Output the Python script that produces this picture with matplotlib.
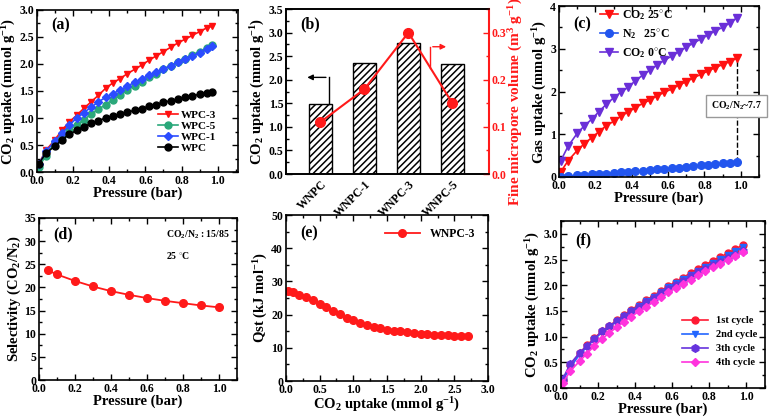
import numpy as np
import matplotlib
matplotlib.use('Agg')
import matplotlib.pyplot as plt
from matplotlib.ticker import AutoMinorLocator, MultipleLocator

plt.rcParams['font.family'] = ['Liberation Serif', 'DejaVu Serif']
plt.rcParams['font.weight'] = 'bold'
plt.rcParams['axes.labelweight'] = 'bold'
plt.rcParams['mathtext.fontset'] = 'custom'
plt.rcParams['mathtext.rm'] = 'Liberation Serif:bold'
plt.rcParams['mathtext.it'] = 'Liberation Serif:bold:italic'
plt.rcParams['mathtext.bf'] = 'Liberation Serif:bold'
plt.rcParams['mathtext.default'] = 'rm'
plt.rcParams['axes.linewidth'] = 1.2
plt.rcParams['hatch.linewidth'] = 1.1

# ---- (a) CO2 isotherms of the carbons ----
p_a = [0.01, 0.05, 0.10, 0.14, 0.18, 0.22, 0.26, 0.30, 0.34, 0.38, 0.42, 0.46, 0.50,
       0.54, 0.58, 0.62, 0.66, 0.70, 0.74, 0.78, 0.82, 0.86, 0.90, 0.94, 0.97]
wpc3 = [0.15, 0.40, 0.60, 0.78, 0.93, 1.05, 1.18, 1.30, 1.42, 1.55, 1.65, 1.73, 1.82,
        1.90, 1.98, 2.07, 2.15, 2.23, 2.31, 2.39, 2.46, 2.53, 2.60, 2.67, 2.70]
wpc5 = [0.10, 0.30, 0.55, 0.67, 0.78, 0.87, 0.97, 1.07, 1.16, 1.25, 1.34, 1.43, 1.51,
        1.60, 1.67, 1.75, 1.82, 1.90, 1.97, 2.04, 2.10, 2.17, 2.23, 2.29, 2.35]
wpc1 = [0.15, 0.38, 0.58, 0.72, 0.87, 1.00, 1.10, 1.20, 1.30, 1.38, 1.45, 1.52, 1.59,
        1.66, 1.73, 1.79, 1.85, 1.91, 1.97, 2.03, 2.09, 2.15, 2.21, 2.27, 2.33]
wpc = [0.15, 0.35, 0.48, 0.60, 0.70, 0.77, 0.84, 0.90, 0.95, 1.00, 1.04, 1.07, 1.11,
       1.14, 1.17, 1.22, 1.25, 1.29, 1.32, 1.35, 1.39, 1.41, 1.44, 1.46, 1.48]

# ---- (b) uptake bars and fine micropore volume ----
samples = ['WNPC', 'WNPC-1', 'WNPC-3', 'WNPC-5']
uptake_b = [1.48, 2.35, 2.78, 2.33]
micro_vol = [0.11, 0.18, 0.30, 0.15]

# ---- (c) WNPC-3 gas uptake ----
p_c = [0.01, 0.05, 0.10, 0.14, 0.18, 0.22, 0.26, 0.30, 0.34, 0.38, 0.42, 0.46, 0.50,
       0.54, 0.58, 0.62, 0.66, 0.70, 0.74, 0.78, 0.82, 0.86, 0.90, 0.94, 0.98]
co2_25 = [0.12, 0.38, 0.62, 0.78, 0.92, 1.06, 1.20, 1.30, 1.42, 1.52, 1.62, 1.72, 1.80,
          1.90, 1.98, 2.06, 2.15, 2.23, 2.32, 2.40, 2.48, 2.56, 2.63, 2.70, 2.78]
n2_25 = [0.01, 0.02, 0.04, 0.05, 0.06, 0.07, 0.08, 0.10, 0.11, 0.12, 0.14, 0.15, 0.17,
         0.18, 0.19, 0.21, 0.22, 0.24, 0.25, 0.27, 0.29, 0.30, 0.32, 0.33, 0.35]
co2_0 = [0.38, 0.72, 1.02, 1.20, 1.35, 1.53, 1.70, 1.85, 1.98, 2.10, 2.25, 2.38, 2.50,
         2.62, 2.73, 2.83, 2.93, 3.04, 3.13, 3.23, 3.32, 3.42, 3.50, 3.60, 3.73]

# ---- (d) IAST selectivity ----
p_d = [0.05, 0.1, 0.2, 0.3, 0.4, 0.5, 0.6, 0.7, 0.8, 0.9, 1.0]
select = [23.7, 22.8, 21.4, 20.2, 19.2, 18.4, 17.7, 17.1, 16.6, 16.1, 15.7]

# ---- (e) isosteric heat ----
load_e = [0.03, 0.1, 0.2, 0.3, 0.4, 0.5, 0.6, 0.7, 0.8, 0.9, 1.0, 1.1, 1.2, 1.3,
          1.4, 1.5, 1.6, 1.7, 1.8, 1.9, 2.0, 2.1, 2.2, 2.3, 2.4, 2.5, 2.6, 2.7]
qst = [27.2, 26.8, 26.0, 25.2, 24.3, 23.2, 22.2, 21.1, 20.1, 19.1, 18.3, 17.5, 16.9, 16.4,
       15.9, 15.5, 15.2, 15.0, 14.7, 14.5, 14.3, 14.1, 14.0, 13.9, 13.8, 13.7, 13.6, 13.5]

# ---- (f) cycling ----
cyc1 = [0.15, 0.45, 0.68, 0.83, 0.97, 1.10, 1.20, 1.32, 1.42, 1.52, 1.62, 1.71, 1.80,
        1.89, 1.98, 2.07, 2.15, 2.24, 2.32, 2.40, 2.48, 2.55, 2.62, 2.70, 2.78]
cyc2 = [0.15, 0.40, 0.65, 0.80, 0.95, 1.08, 1.19, 1.30, 1.40, 1.50, 1.60, 1.69, 1.78,
        1.87, 1.96, 2.04, 2.12, 2.20, 2.28, 2.36, 2.44, 2.51, 2.58, 2.66, 2.74]
cyc3 = [0.18, 0.47, 0.68, 0.82, 0.95, 1.10, 1.20, 1.30, 1.40, 1.49, 1.58, 1.67, 1.76,
        1.85, 1.93, 2.01, 2.09, 2.17, 2.25, 2.32, 2.39, 2.46, 2.53, 2.59, 2.66]
cyc4 = [0.10, 0.33, 0.52, 0.67, 0.82, 0.95, 1.07, 1.18, 1.29, 1.39, 1.49, 1.58, 1.68,
        1.77, 1.86, 1.95, 2.03, 2.11, 2.19, 2.27, 2.35, 2.42, 2.50, 2.57, 2.64]

TICK = 8.5
LAB = 10.5
RED = '#ff1a1a'


def style(ax, xmaj, ymaj, right=True):
    ax.xaxis.set_major_locator(MultipleLocator(xmaj))
    ax.yaxis.set_major_locator(MultipleLocator(ymaj))
    ax.xaxis.set_minor_locator(AutoMinorLocator(2))
    ax.yaxis.set_minor_locator(AutoMinorLocator(2))
    ax.tick_params(which='both', direction='in', top=True, right=right, labelsize=TICK, pad=2)
    ax.tick_params(which='major', length=4, width=1)
    ax.tick_params(which='minor', length=2, width=1)
    for lab in ax.get_xticklabels() + ax.get_yticklabels():
        lab.set_fontweight('bold')


def panel(ax, s, y=0.905):
    ax.text(0.07, y, s, transform=ax.transAxes, fontsize=11.5, fontweight='bold', va='center')


fig = plt.figure(figsize=(7.69, 4.18), dpi=100)

# (a)
ax = fig.add_axes([0.048, 0.5885, 0.261, 0.3876])
ax.plot(p_a, wpc3, '-v', color='#ff1010', ms=5, lw=1.2, label='WPC-3')
ax.plot(p_a, wpc5, '-o', color='#2aa87a', ms=5, lw=1.2, label='WPC-5')
ax.plot(p_a, wpc1, '-D', color='#2b4cff', ms=4, lw=1.2, label='WPC-1')
ax.plot(p_a, wpc, '-o', color='black', ms=5, lw=1.2, label='WPC')
ax.set_xlim(0, 1.11)
ax.set_ylim(0, 3.0)
style(ax, 0.2, 0.5)
ax.set_xlabel('Pressure (bar)', fontsize=LAB, labelpad=0)
ax.set_ylabel(r'CO$_2$ uptake (mmol g$^{-1}$)', fontsize=LAB, labelpad=1)
panel(ax, '(a)')
ax.legend(loc='lower right', bbox_to_anchor=(0.93, 0.07), frameon=False,
          fontsize=8, handlelength=1.8, handletextpad=0.2, labelspacing=0.12, borderpad=0.2)

# (b)
ax = fig.add_axes([0.3719, 0.5837, 0.264, 0.3947])
xb = np.arange(len(samples))
ax.bar(xb, uptake_b, width=0.51, color='white', edgecolor='black', hatch='/////', lw=1)
ax.set_xlim(-0.78, 3.83)
ax.set_ylim(0, 3.5)
ax.yaxis.set_major_locator(MultipleLocator(0.5))
ax.yaxis.set_minor_locator(AutoMinorLocator(2))
ax.set_xticks(xb)
ax.set_xticklabels(samples, rotation=45, ha='right', rotation_mode='anchor', fontsize=TICK,
                   fontweight='bold')
ax.tick_params(axis='x', which='both', length=0, pad=3)
ax.tick_params(axis='y', which='both', direction='in', labelsize=TICK, pad=2)
ax.tick_params(axis='y', which='major', length=4, width=1)
ax.tick_params(axis='y', which='minor', length=2, width=1)
for lab in ax.get_yticklabels():
    lab.set_fontweight('bold')
ax.set_ylabel(r'CO$_2$ uptake (mmol g$^{-1}$)', fontsize=LAB, labelpad=1)
panel(ax, '(b)')
ax.plot([0.19, 0.19], [uptake_b[0], 2.05], color='black', lw=1)
ax.annotate('', xy=(-0.36, 2.05), xytext=(0.19, 2.05),
            arrowprops=dict(arrowstyle='-|>', color='black', lw=1, mutation_scale=8))
ax2 = ax.twinx()
ax2.plot(xb, micro_vol, '-o', color=RED, ms=7, lw=1.5)
ax2.set_ylim(0, 0.35)
ax2.yaxis.set_major_locator(MultipleLocator(0.1))
ax2.yaxis.set_minor_locator(AutoMinorLocator(2))
ax2.tick_params(axis='y', which='both', direction='in', colors=RED, labelsize=TICK, pad=2)
ax2.tick_params(axis='y', which='major', length=4, width=1)
ax2.tick_params(axis='y', which='minor', length=2, width=1)
for lab in ax2.get_yticklabels():
    lab.set_fontweight('bold')
ax2.spines['right'].set_color(RED)
ax2.spines['right'].set_linewidth(1.5)
ax2.set_ylabel(r'Fine micropore volume (m$^3$ g$^{-1}$)', fontsize=11, color=RED)
ax2.yaxis.set_label_coords(1.085, 0.44)
ax2.plot([2.49, 2.49], [0.224, 0.27], color=RED, lw=1)
ax2.annotate('', xy=(2.92, 0.27), xytext=(2.49, 0.27),
             arrowprops=dict(arrowstyle='-|>', color=RED, lw=1, mutation_scale=8))

# (c)
ax = fig.add_axes([0.7269, 0.5766, 0.260, 0.409])
ax.plot(p_c, co2_25, '-v', color='#ff1010', ms=5.5, lw=1.2, label=r'CO$_2$ 25$^{\circ}$C')
ax.plot(p_c, n2_25, '-o', color='#2255ee', ms=5.5, lw=1.2, label=r'N$_2$   25$^{\circ}$C')
ax.plot(p_c, co2_0, '-v', color='#6a2fd8', ms=5.5, lw=1.2, label=r'CO$_2$ 0$^{\circ}$C')
ax.plot([0.978, 0.978], [n2_25[-1], co2_25[-1]], '--', color='black', lw=1, zorder=1)
ax.text(0.978, 1.66, r'CO$_2$/N$_2$~7.7', ha='center', va='center', fontsize=7,
        bbox=dict(boxstyle='square,pad=0.5', fc='white', ec='#999999', lw=1), zorder=5,
        clip_on=False)
ax.set_xlim(0, 1.1)
ax.set_ylim(0, 4)
style(ax, 0.2, 1)
ax.set_xlabel('Pressure (bar)', fontsize=LAB, labelpad=0)
ax.set_ylabel(r'Gas uptake (mmol g$^{-1}$)', fontsize=LAB, labelpad=1)
panel(ax, '(c)', y=0.89)
ax.legend(loc='upper left', bbox_to_anchor=(0.16, 1.045), frameon=False, fontsize=8.5,
          handlelength=1.5, handletextpad=0.3, labelspacing=0.45, borderpad=0.3)

# (d)
ax = fig.add_axes([0.0507, 0.0909, 0.2575, 0.3876])
ax.plot(p_d, select, '-o', color=RED, ms=5.5, lw=1.3)
ax.set_xlim(0, 1.1)
ax.set_ylim(0, 35)
style(ax, 0.2, 5)
ax.set_xlabel('Pressure (bar)', fontsize=LAB, labelpad=0)
ax.set_ylabel(r'Selectivity (CO$_2$/N$_2$)', fontsize=LAB, labelpad=1)
panel(ax, '(d)', y=0.9)
ax.text(0.64, 0.895, r'CO$_2$/N$_2$ : 15/85', transform=ax.transAxes, fontsize=7, va='center')
ax.text(0.64, 0.77, r'25 $^{\circ}$C', transform=ax.transAxes, fontsize=7, va='center')

# (e)
ax = fig.add_axes([0.3719, 0.0885, 0.2627, 0.397])
ax.plot(load_e, qst, '-o', color=RED, ms=5.5, lw=1.3, label='WNPC-3')
ax.set_xlim(0, 3.0)
ax.set_ylim(0, 50)
style(ax, 0.5, 10)
ax.set_xlabel(r'CO$_2$ uptake (mmol g$^{-1}$)', fontsize=LAB, labelpad=0)
ax.set_ylabel(r'Qst (kJ mol$^{-1}$)', fontsize=LAB, labelpad=1)
panel(ax, '(e)', y=0.89)
ax.legend(loc='upper right', frameon=False, fontsize=8.5, handlelength=3, borderpad=0.6)

# (f)
ax = fig.add_axes([0.7295, 0.0718, 0.265, 0.3995])
ax.plot(p_c, cyc1, '-o', color='#ff1a33', ms=5, lw=1.2, label='1st cycle')
ax.plot(p_c, cyc2, '-v', color='#2266ff', ms=5, lw=1.2, label='2nd cycle')
ax.plot(p_c, cyc3, '-h', color='#6633dd', ms=5.5, lw=1.2, label='3th cycle')
ax.plot(p_c, cyc4, '-D', color='#ff33dd', ms=4.5, lw=1.2, label='4th cycle')
ax.set_xlim(0, 1.1)
ax.set_ylim(0, 3.25)
style(ax, 0.2, 0.5)
ax.set_xlabel('Pressure (bar)', fontsize=LAB, labelpad=0)
ax.set_ylabel(r'CO$_2$ uptake (mmol g$^{-1}$)', fontsize=LAB, labelpad=1)
panel(ax, '(f)', y=0.885)
ax.legend(loc='lower right', bbox_to_anchor=(1.0, 0.08), frameon=False, fontsize=7.5,
          handlelength=2.5, labelspacing=0.45, borderpad=0.2)

fig.savefig('out.png', dpi=100)
